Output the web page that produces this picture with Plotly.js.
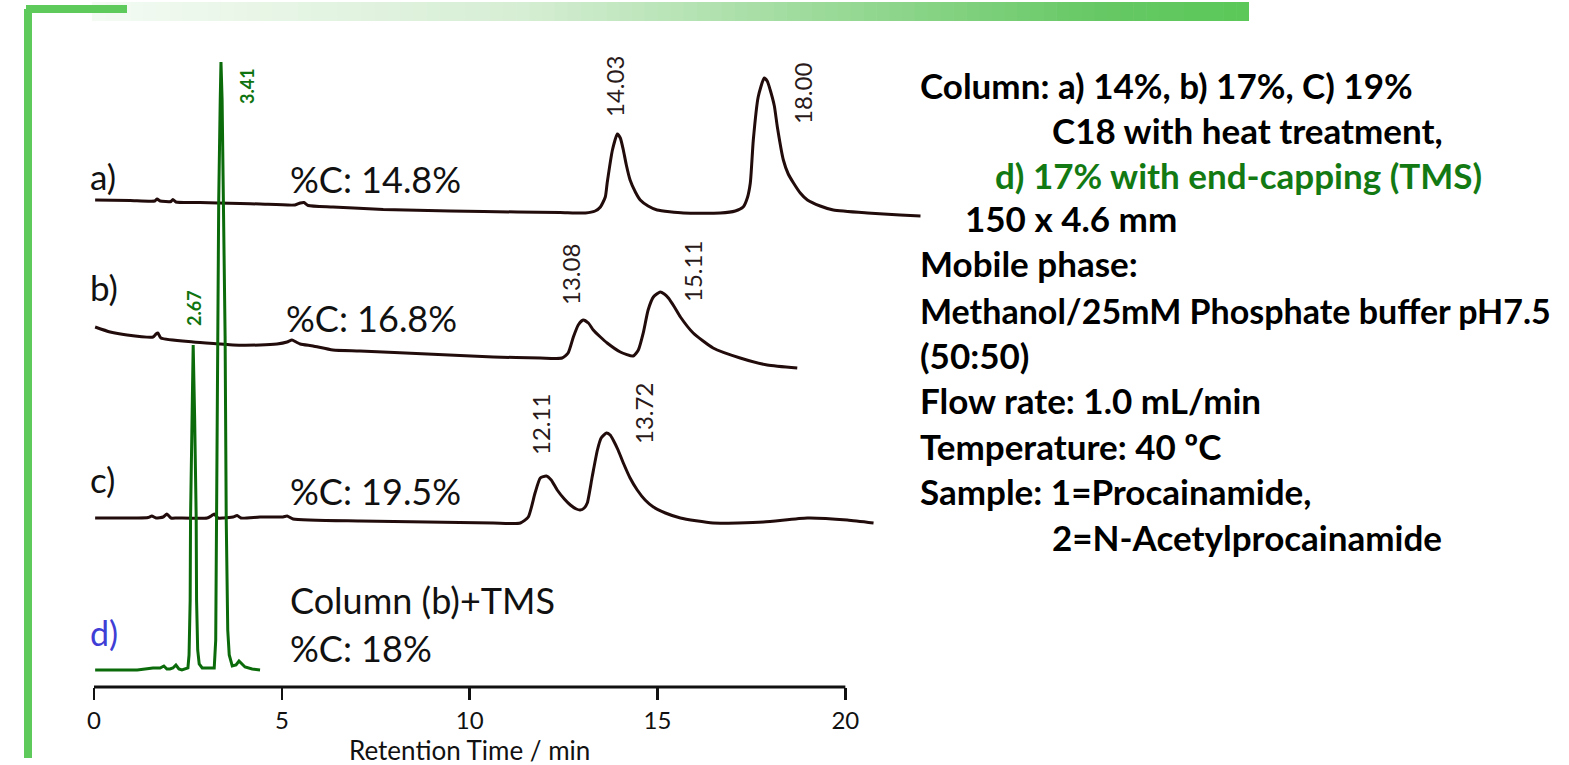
<!DOCTYPE html>
<html><head><meta charset="utf-8">
<script src="https://cdn.plot.ly/plotly-3.0.1.min.js"></script>
<style>html,body{margin:0;padding:0;background:#fff;overflow:hidden}#chart{width:1569px;height:765px}</style>
</head><body><div id="chart"></div>
<script>
// ---------------- DATA (retention time in min, detector signal relative to each trace's start baseline) ----------------
const timeA   = [0.03,0.96,1.62,1.68,1.76,2.05,2.10,2.18,2.82,3.30,3.89,4.42,5.35,5.49,5.59,5.70,6.36,7.70,9.48,11.27,12.41,13.08,13.34,13.48,13.61,13.66,13.80,13.93,14.01,14.09,14.17,14.27,14.41,14.54,14.75,14.99,15.69,16.67,17.07,17.28,17.39,17.47,17.55,17.68,17.84,17.92,18.00,18.11,18.19,18.35,18.48,18.62,18.80,18.99,19.33,19.68,20.59,21.46,22.00];
const signalA = [0,-0.5,-1,1,-1,-1.5,0.5,-2,-2.5,-3,-3.5,-4,-5,-3,-2.5,-5.5,-7,-9.5,-11,-12,-12.5,-13,-11,-7,3,17,50,66,62,50,35,20,8,0,-6,-10,-13,-13,-11,-7,2,17,60,103,122,119,110,94,73,40,26,17,7,0,-6,-10,-13,-15,-16];

const timeB   = [0.03,0.43,0.88,1.57,1.65,1.70,1.78,2.64,3.36,3.70,4.42,4.87,5.14,5.27,5.38,5.49,5.83,6.36,7.08,8.87,10.63,11.88,12.46,12.62,12.76,12.89,13.02,13.16,13.29,13.48,13.66,14.01,14.35,14.49,14.62,14.75,14.89,15.07,15.18,15.29,15.45,15.61,15.95,16.48,17.20,17.92,18.72];
const signalB = [0,-5,-8,-10,-7,-6,-11,-15,-17,-18,-18,-17,-15,-13,-15,-17,-19,-23,-24,-27,-30,-31,-31,-26,-10,2,7,4,-3,-10,-16,-25,-29,-23,-6,17,30,35,33,29,20,10,-6,-21,-31,-38,-41];

const timeC   = [0.03,1.15,1.44,1.54,1.65,1.84,1.94,2.05,2.21,3.01,3.12,3.20,3.30,3.44,3.70,3.81,3.91,4.42,5.03,5.14,5.30,7.08,8.87,10.63,11.35,11.56,11.74,11.88,12.04,12.17,12.33,12.52,12.68,12.84,12.94,13.05,13.13,13.26,13.40,13.50,13.64,13.74,13.82,13.95,14.09,14.27,14.46,14.67,14.89,15.21,15.61,16.48,17.82,18.99,20.05,20.75];
const signalC = [0,0,0.5,2,0,1,4,0,0,0,2,4,0,0,1,2.5,0,1,1,2,-1,-3,-4,-5,-5,1,25,40,42,38,28,19,13,9,8,10,15,41,68,80,85,83,78,68,55,40,28,18,11,5,0,-5,-4,0,-2,-5];

const timeD   = [0.03,1.15,1.57,1.76,1.86,1.94,2.02,2.10,2.18,2.26,2.34,2.45,2.50,2.53,2.56,2.57,2.61,2.64,2.68,2.72,2.73,2.76,2.80,2.88,3.01,3.17,3.20,3.24,3.26,3.28,3.32,3.36,3.38,3.41,3.45,3.49,3.52,3.56,3.60,3.68,3.78,3.86,3.94,4.02,4.21,4.42];
const signalD = [0,0,2,2,4,1,1,2,5,1,0,1,2,15,70,153,250,325,250,153,70,20,6,2,2,2,2,30,150,333,470,570,608,570,470,333,150,40,15,4,5,9,6,3,1,0];

const sampleLabels = ['a)','b)','c)','d)'];
const carbonLabels = ['%C: 14.8%','%C: 16.8%','%C: 19.5%','%C: 18%'];
const columnNoteD  = 'Column (b)+TMS';
const peakLabelsA  = ['14.03','18.00'];
const peakLabelsB  = ['13.08','15.11'];
const peakLabelsC  = ['12.11','13.72'];
const peakLabelsD  = ['2.67','3.41'];
const tickVals = [0,5,10,15,20];
const tickText = ['0','5','10','15','20'];
const axisTitle = 'Retention Time / min';
const infoLines = [
  'Column: a) 14%, b) 17%, C) 19%',
  'C18 with heat treatment,',
  'd) 17% with end-capping (TMS)',
  '150 x 4.6 mm',
  'Mobile phase:',
  'Methanol/25mM Phosphate buffer pH7.5',
  '(50:50)',
  'Flow rate: 1.0 mL/min',
  'Temperature: 40 ºC',
  'Sample: 1=Procainamide,',
  '2=N-Acetylprocainamide'
];

// ---------------- LAYOUT / STYLE ----------------
const W = 1569, H = 765;
const M = {l:94, r:641, t:40, b:78};
const PW = W - M.l - M.r, PH = H - M.t - M.b;
const px = x => (x - M.l) / PW;          // pixel -> paper x
const py = y => (H - M.b - y) / PH;      // pixel -> paper y
const offsets = [487, 360, 169, 17];      // vertical stacking of the chromatograms
const BROWN = '#220b0b', GREEN = '#0b6b0b', FONT = 'Lato, "Open Sans", sans-serif';

function tr(t, s, off, color, shape){
  return {x:t, y:s.map(v => v + off), type:'scatter', mode:'lines',
          line:{color:color, width:3, shape:shape, smoothing:0.55}, hoverinfo:'skip', showlegend:false};
}
const data = [
  tr(timeA, signalA, offsets[0], BROWN, 'spline'),
  tr(timeB, signalB, offsets[1], BROWN, 'spline'),
  tr(timeC, signalC, offsets[2], BROWN, 'spline'),
  tr(timeD, signalD, offsets[3], GREEN, 'linear')
];

const ann = [];
function txt(text, x, y, size, opts){
  ann.push(Object.assign({text:text, x:px(x), y:py(y), xref:'paper', yref:'paper', showarrow:false,
    xanchor:'left', yanchor:'middle', font:{family:FONT, size:size, color:'#111'}}, opts||{}));
}
// sample labels
const labPos = [[88,176],[88,287],[88,479],[88,632]];
sampleLabels.forEach((s,i) => txt(s, labPos[i][0], labPos[i][1], 35,
  i===3 ? {font:{family:FONT,size:34,color:'#3f3fd6'}} : {}));
const cPos = [[288,179],[284,318],[288,491],[288,648]];
carbonLabels.forEach((s,i) => txt(s, cPos[i][0], cPos[i][1], 36));
txt(columnNoteD, 288, 600, 36);
// rotated peak labels
function rot(s, x, y, size, color, bold){
  ann.push({text:s, x:px(x), y:py(y), xref:'paper', yref:'paper', showarrow:false, textangle:-90,
    xanchor:'center', yanchor:'middle', font:{family:FONT, size:size, color:color, weight: bold?700:400}});
}
const rotA = [[614,87],[802,94]], rotB = [[570,275],[692,272]], rotC = [[541,425],[644,414]], rotD = [[194,308],[247,86]];
peakLabelsA.forEach((s,i)=>rot(s, rotA[i][0], rotA[i][1], 24, '#2a1a1a'));
peakLabelsB.forEach((s,i)=>rot(s, rotB[i][0], rotB[i][1], 24, '#2a1a1a'));
peakLabelsC.forEach((s,i)=>rot(s, rotC[i][0], rotC[i][1], 24, '#2a1a1a'));
peakLabelsD.forEach((s,i)=>rot(s, rotD[i][0], rotD[i][1], 18, '#0f740f', true));
// axis title
ann.push({text:axisTitle, x:10, xref:'x', y:py(750), yref:'paper', showarrow:false, xanchor:'center', yanchor:'middle',
  borderpad:0, font:{family:FONT, size:26, color:'#111'}});
// info panel
const infoPos = [[918,85],[1050,130],[993,175],[963,218],[918,263],[918,310],[918,355],[918,400],[918,446],[918,491],[1050,537]];
infoLines.forEach((s,i) => txt(s, infoPos[i][0], infoPos[i][1], 34,
  {font:{family:FONT, size: i===5 ? 34 : 35, weight:700, color: i===2 ? '#137a13' : '#000'}}));

// shapes: axis line + decorative bars
const shapes = [
  {type:'line', xref:'x', yref:'paper', x0:0, x1:20, y0:0, y1:0, line:{color:'#111', width:3}},
  {type:'rect', xref:'paper', yref:'paper', x0:px(24), x1:px(32), y0:py(9), y1:py(758), fillcolor:'#5dca5b', line:{width:0}},
];
const stops = [[0,[244,251,243]],[0.37,[214,238,212]],[0.87,[102,200,100]],[1,[90,200,88]]];
function grad(f){
  for(let k=0;k<stops.length-1;k++){
    const [f0,c0]=stops[k],[f1,c1]=stops[k+1];
    if(f<=f1){const u=(f-f0)/(f1-f0);return 'rgb('+c0.map((c,j)=>Math.round(c+(c1[j]-c)*u)).join(',')+')';}
  }
  return 'rgb(90,200,88)';
}
const N = 90, gx0 = 92, gx1 = 1249;
for(let k=0;k<N;k++){
  const a = gx0 + (gx1-gx0)*k/N, b = gx0 + (gx1-gx0)*(k+1)/N + 0.6;
  shapes.push({type:'rect', xref:'paper', yref:'paper', x0:px(a), x1:px(Math.min(b,gx1)), y0:py(2), y1:py(21),
    fillcolor:grad((k+0.5)/N), line:{width:0}});
}
shapes.push({type:'rect', xref:'paper', yref:'paper', x0:px(26), x1:px(127), y0:py(5), y1:py(13), fillcolor:'#5dca5b', line:{width:0}});

const layout = {
  width:W, height:H, margin:M, paper_bgcolor:'#fff', plot_bgcolor:'rgba(0,0,0,0)', showlegend:false,
  xaxis:{range:[0, 22.2], tickmode:'array', tickvals:tickVals, ticktext:tickText, ticks:'outside', ticklen:12, tickwidth:2.5,
         tickcolor:'#111', tickfont:{family:FONT, size:24, color:'#111'}, showline:false, showgrid:false, zeroline:false, fixedrange:true},
  yaxis:{range:[0, PH], visible:false, fixedrange:true},
  annotations:ann, shapes:shapes
};
Plotly.newPlot('chart', data, layout, {displayModeBar:false, staticPlot:true});
</script></body></html>
